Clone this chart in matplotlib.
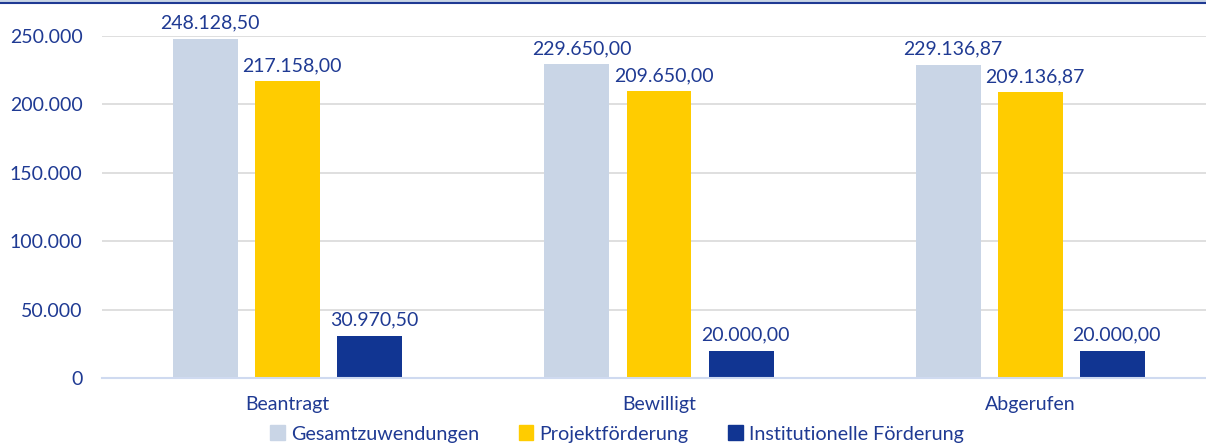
import matplotlib.pyplot as plt
import numpy as np
from matplotlib.lines import Line2D

categories = ["Beantragt", "Bewilligt", "Abgerufen"]
series_names = ["Gesamtzuwendungen", "Projektförderung", "Institutionelle Förderung"]
gesamt = [248128.50, 229650.00, 229136.87]
projekt = [217158.00, 209650.00, 209136.87]
institutionell = [30970.50, 20000.00, 20000.00]
yticks = [0, 50000, 100000, 150000, 200000, 250000]
ytick_labels = ["0", "50.000", "100.000", "150.000", "200.000", "250.000"]

colors = ["#C9D5E6", "#FFCC00", "#113592"]
text_color = "#1F3A93"


def fmt(v):
    s = f"{v:,.2f}"
    return s.replace(",", "X").replace(".", ",").replace("X", ".")


plt.rcParams['font.family'] = ['Lato', 'DejaVu Sans']

W, H = 1206, 444
fig = plt.figure(figsize=(W / 100, H / 100), dpi=100)
# plot area: left 102px, right 1216px, bottom at y=378, top at y=36
ax = fig.add_axes([102 / W, (H - 378) / H, (1216 - 102) / W, (378 - 36) / H])

x = np.arange(len(categories))
width = 0.175
step = 0.221
for i, (vals, col) in enumerate(zip([gesamt, projekt, institutionell], colors)):
    pos = x + (i - 1) * step
    ax.bar(pos, vals, width=width, color=col, zorder=3, label=series_names[i])
    for p, v in zip(pos, vals):
        ax.text(p + 0.012, v + 5000, fmt(v), ha="center", va="bottom", fontsize=14,
                color=text_color, clip_on=False)

ax.set_xlim(-0.5, 2.5)
ax.set_ylim(0, 250000)
ax.set_yticks(yticks)
ax.set_yticklabels(ytick_labels)
ax.set_xticks(x)
ax.set_xticklabels(categories)
ax.tick_params(axis="both", length=0, labelsize=14, labelcolor=text_color)
ax.tick_params(axis="y", pad=14)
ax.tick_params(axis="x", pad=13)
ax.grid(axis="y", color="#D9D9D9", linewidth=1.2, zorder=0)
for s in ["top", "right", "left"]:
    ax.spines[s].set_visible(False)
ax.spines["bottom"].set_color("#CFDAF0")
ax.spines["bottom"].set_linewidth(1.5)
ax.spines["bottom"].set_zorder(4)

handles = [plt.Rectangle((0, 0), 1, 1, color=c) for c in colors]
leg = fig.legend(handles, series_names, loc="center", bbox_to_anchor=(617 / W, 1 - 434 / H),
                 ncol=3, frameon=False, fontsize=14.2, handlelength=0.75, handleheight=0.75,
                 handletextpad=0.3, columnspacing=2.0, borderpad=0)
for t in leg.get_texts():
    t.set_color(text_color)

# top border lines
fig.add_artist(Line2D([0, 1], [1 - 1 / H, 1 - 1 / H], color="#C9D5E6", linewidth=2.5))
fig.add_artist(Line2D([0, 1], [1 - 3.5 / H, 1 - 3.5 / H], color="#1F3A93", linewidth=1.5))

fig.savefig("out.png", dpi=100)
